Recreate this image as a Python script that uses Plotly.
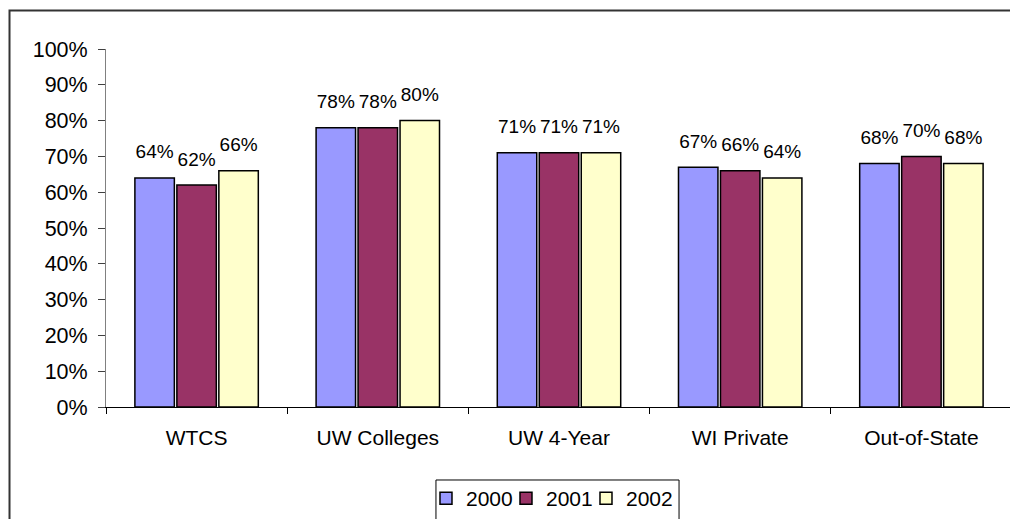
"""Retention by type of institution, 2000-2002."""
from plotly import graph_objects as go

categories = ["WTCS", "UW Colleges", "UW 4-Year", "WI Private", "Out-of-State"]
years = ["2000", "2001", "2002"]
rate_2000 = [0.64, 0.78, 0.71, 0.67, 0.68]
rate_2001 = [0.62, 0.78, 0.71, 0.66, 0.70]
rate_2002 = [0.66, 0.80, 0.71, 0.64, 0.68]
y_ticks = [i / 10 for i in range(11)]

rates = [rate_2000, rate_2001, rate_2002]
colors = ["#9999FF", "#993366", "#FFFFCC"]
font = "Arial, Liberation Sans, sans-serif"

fig = go.Figure()
for year, values, color in zip(years, rates, colors):
    fig.add_trace(go.Bar(x=categories, y=values, name=year, offsetgroup=year,
                         marker={"color": color, "line": {"color": "black", "width": 1.5}}))
# Labels above the bars, grouped like the bars so they sit centred on them.
# The invisible markers only keep the labels clear of the bar tops.
for year, values in zip(years, rates):
    fig.add_trace(go.Scatter(x=categories, y=values, offsetgroup=year, mode="markers+text",
                             text=[f"{v * 100:.0f}%" for v in values], textposition="top center",
                             textfont={"size": 19, "color": "black", "family": font},
                             marker={"size": 22, "opacity": 0}, showlegend=False, hoverinfo="skip"))
# Empty, invisible legend entry: keeps the narrow last entry from being clipped.
fig.add_trace(go.Scatter(x=[None], y=[None], offsetgroup=years[-1], mode="markers", name=" ",
                         marker={"color": "rgba(0,0,0,0)", "size": 1}, hoverinfo="skip"))

# The page body adds an 8px margin, so the margins here are 8px smaller on the left and top.
fig.update_layout(
    width=1018, height=519,
    margin={"l": 98, "r": 14, "t": 41, "b": 120},
    paper_bgcolor="white", plot_bgcolor="white",
    font={"family": font, "color": "black"},
    barmode="group", bargap=0.305, bargroupgap=0.06,
    scattermode="group", scattergap=0.305,
    showlegend=True,
    legend={"orientation": "h", "xref": "container", "yref": "container",
            "x": 0.4106, "xanchor": "left", "y": 0.0944, "yanchor": "top",
            "borderwidth": 0, "bgcolor": "rgba(0,0,0,0)", "font": {"size": 21},
            "traceorder": "normal", "itemwidth": 30, "entrywidth": 35},
)
fig.update_xaxes(showline=True, linecolor="black", linewidth=1, ticks="outside", tickson="boundaries",
                 ticklen=6, tickcolor="black", tickfont={"size": 21}, ticklabelstandoff=12)
fig.update_yaxes(range=[0, 1], tickvals=y_ticks, tickformat=".0%", showgrid=False, zeroline=False,
                 showline=True, linecolor="#808080", linewidth=1, ticks="outside", ticklen=7,
                 tickcolor="#404040", tickfont={"size": 21.5}, ticklabelstandoff=6)

# Chart frame and legend frame, both cut off by the picture's bottom edge.
fig.add_shape(type="rect", xref="paper", yref="paper", x0=-0.1065, x1=1.2, y0=-0.6, y1=1.1075,
              line={"color": "#333333", "width": 2}, layer="below")
fig.add_shape(type="rect", xref="paper", yref="paper", x0=0.3642, x1=0.6325, y0=-0.4, y1=-0.2039,
              line={"color": "black", "width": 1}, layer="below")
fig.add_annotation(text="<b>Retention by Type of Attending Institution</b>", xref="paper", yref="paper",
                   x=-0.0673, y=1.15, xanchor="left", yanchor="bottom", showarrow=False,
                   font={"size": 24, "family": font})

fig.write_html("out.html")
